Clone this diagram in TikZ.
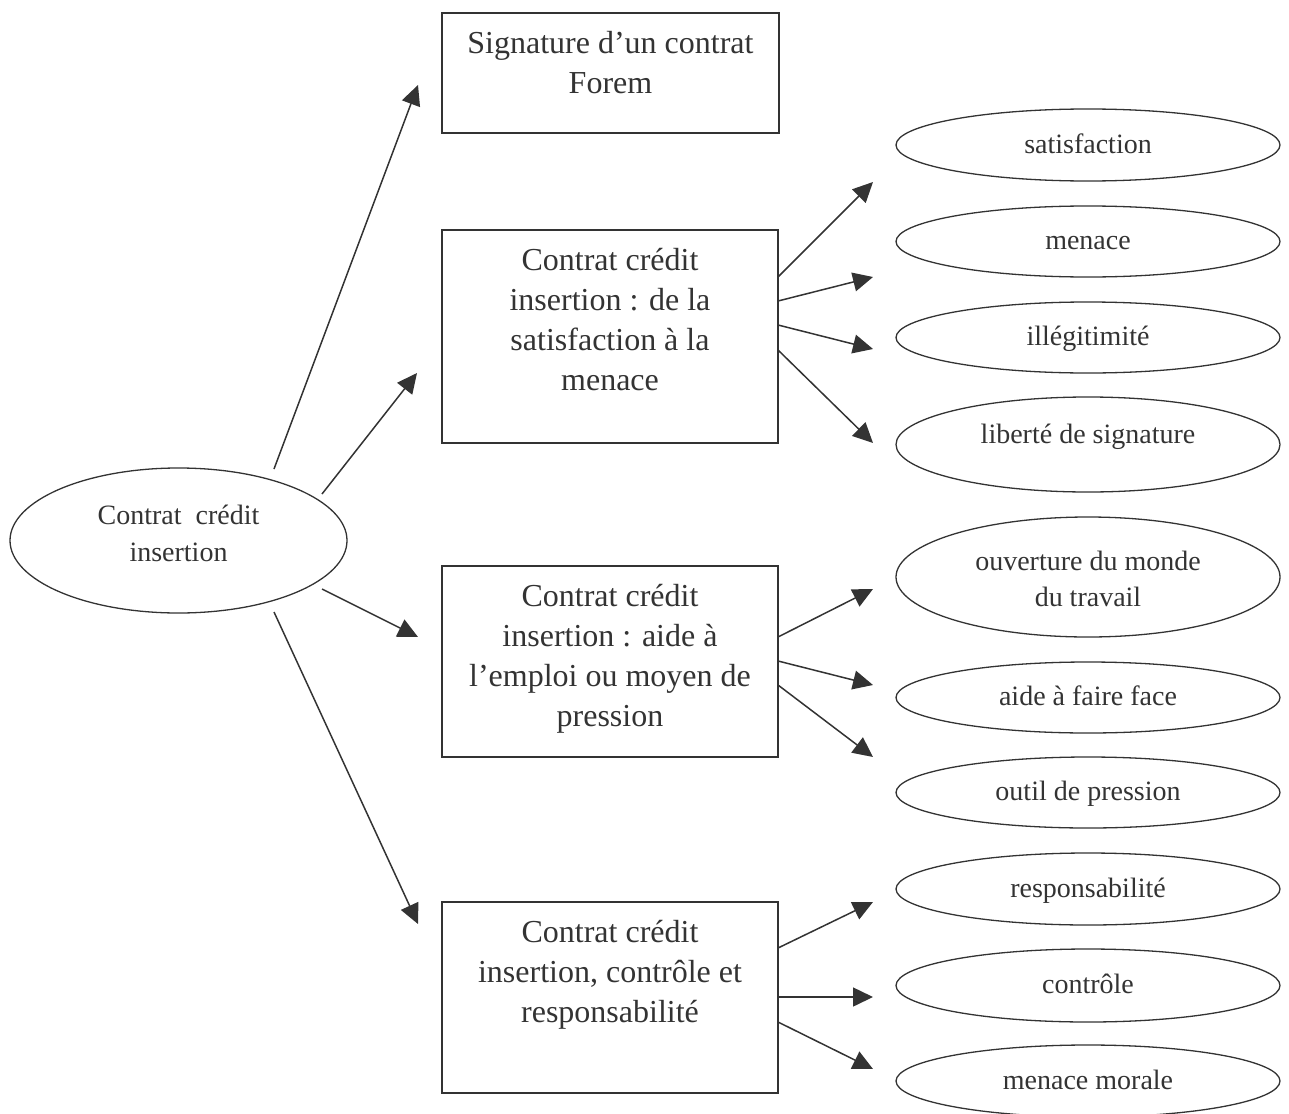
\documentclass[tikz,border=0pt]{standalone}
\usepackage{fontspec}
\setmainfont{Liberation Serif}
\usetikzlibrary{arrows.meta,shapes.geometric}
\definecolor{ink}{HTML}{333333}
\begin{document}
\begin{tikzpicture}[x=1pt,y=-1pt,
  box/.style={draw=ink, line width=1.5pt, rectangle, inner sep=0pt, text=ink,
    font=\fontsize{32}{40}\selectfont},
  oval/.style={draw=ink, line width=1.3pt, ellipse, inner sep=0pt, text=ink,
    font=\fontsize{28}{36}\selectfont, text height=20pt, text depth=4pt,
    minimum width=384pt, minimum height=72pt},
  conn/.style={draw=ink, line width=1.5pt, -{Triangle[length=20pt,width=19pt]}}]
\useasboundingbox (0,0) rectangle (1289,1113);

% central ellipse
\node[oval, minimum width=337pt, minimum height=145pt, text depth=53pt,
  font=\fontsize{28}{37}\selectfont] (c) at (178.5,540.5)
  {\parbox[t]{200pt}{\centering Contrat\ \ crédit\\insertion}};

% boxes
\node[box] (b1) at (610.5,73) {\parbox[t][120pt][t]{337pt}{\centering\rule{0pt}{41pt}Signature d’un contrat\\Forem}};
\node[box] (b2) at (610,336.5) {\parbox[t][213pt][t]{336pt}{\centering\rule{0pt}{40pt}Contrat crédit\\insertion : de la\\satisfaction à la\\menace}};
\node[box] (b3) at (610,661.5) {\parbox[t][191pt][t]{336pt}{\centering\rule{0pt}{40pt}Contrat crédit\\insertion : aide à\\l’emploi ou moyen de\\pression}};
\node[box] (b4) at (610,997.5) {\parbox[t][191pt][t]{336pt}{\centering\rule{0pt}{40pt}Contrat crédit\\insertion, contrôle et\\responsabilité}};

% right ellipses
\node[oval] (e1) at (1088,145) {satisfaction};
\node[oval, minimum height=71pt] (e2) at (1088,241.5) {menace};
\node[oval, minimum height=71pt] (e3) at (1088,337.5) {illégitimité};
\node[oval, minimum height=95pt, text depth=23pt] (e4) at (1088,444.5) {liberté de signature};
\node[oval, minimum height=120pt, text depth=34pt] (e5) at (1088,577)
  {\parbox[t]{240pt}{\centering ouverture du monde\\du travail}};
\node[oval, minimum height=71pt] (e6) at (1088,697.5) {aide à faire face};
\node[oval, minimum height=71pt] (e7) at (1088,792.5) {outil de pression};
\node[oval] (e8) at (1088,889) {responsabilité};
\node[oval, minimum height=73pt] (e9) at (1088,985.5) {contrôle};
\node[oval] (e10) at (1088,1081) {menace morale};

% connector ends
\coordinate (c1s) at (274,469);  \coordinate (c1e) at (418,85);
\coordinate (c2s) at (322,494);  \coordinate (c2e) at (417,373);
\coordinate (c3s) at (322,589);  \coordinate (c3e) at (418,637);
\coordinate (c4s) at (274,612);  \coordinate (c4e) at (418,924);

\coordinate (s1) at (778,277);  \coordinate (t1) at (873,182);
\coordinate (s2) at (778,301);  \coordinate (t2) at (873,277);
\coordinate (s3) at (778,325);  \coordinate (t3) at (873,349);
\coordinate (s4) at (778,350);  \coordinate (t4) at (873,443);
\coordinate (s5) at (778,637);  \coordinate (t5) at (873,589);
\coordinate (s6) at (778,661);  \coordinate (t6) at (873,685);
\coordinate (s7) at (778,685);  \coordinate (t7) at (873,757);
\coordinate (s8) at (778,948);  \coordinate (t8) at (873,902);
\coordinate (s9) at (778,997);  \coordinate (t9) at (873,997);
\coordinate (s10) at (778,1022); \coordinate (t10) at (873,1069);

\draw[conn] (c1s) -- (c1e);
\draw[conn] (c2s) -- (c2e);
\draw[conn] (c3s) -- (c3e);
\draw[conn] (c4s) -- (c4e);
\foreach \i in {1,...,10} { \draw[conn] (s\i) -- (t\i); }
\end{tikzpicture}
\end{document}
